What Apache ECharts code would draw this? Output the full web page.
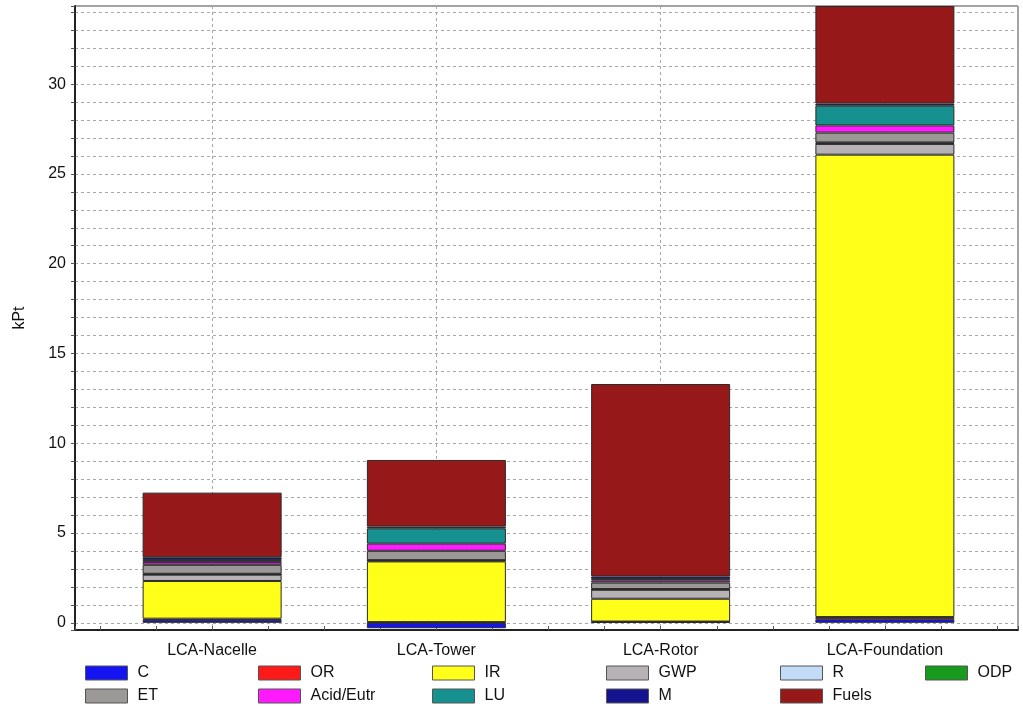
<!DOCTYPE html>
<html>
<head>
<meta charset="utf-8">
<title>LCA stacked impact</title>
<script src="https://cdn.jsdelivr.net/npm/echarts@6/dist/echarts.min.js"></script>
<style>
  html, body { margin: 0; padding: 0; background: #fff; }
  #chart { width: 1023px; height: 708px; }
</style>
</head>
<body>
<div id="chart"></div>
<script>
// Life-cycle components on the x axis
const categories = ['LCA-Nacelle', 'LCA-Tower', 'LCA-Rotor', 'LCA-Foundation'];

// Impact categories (kPt), stacked bottom to top in this order
const C         = [0.15, -0.30, 0.04, 0.20];
const OR        = [0.08, 0.04, 0.03, 0.12];
const IR        = [2.10, 3.38, 1.27, 25.75];
const GWP       = [0.35, 0.05, 0.50, 0.60];
const R         = [0.02, 0.01, 0.02, 0.03];
const ODP       = [0.03, 0.01, 0.02, 0.05];
const ET        = [0.50, 0.52, 0.36, 0.55];
const AcidEutr  = [0.15, 0.40, 0.12, 0.40];
const LU        = [0.12, 0.85, 0.07, 1.10];
const M         = [0.15, 0.10, 0.15, 0.12];
const Fuels     = [3.60, 3.71, 10.72, 5.43];

const seriesDefs = [
  ['C', C, '#1414f0'],
  ['OR', OR, '#ff1a1a'],
  ['IR', IR, '#ffff1a'],
  ['GWP', GWP, '#b6b2b6'],
  ['R', R, '#c2dcf8'],
  ['ODP', ODP, '#189a1c'],
  ['ET', ET, '#9b9896'],
  ['Acid/Eutr', AcidEutr, '#ff1aff'],
  ['LU', LU, '#179190'],
  ['M', M, '#141490'],
  ['Fuels', Fuels, '#961818']
];

// Legend rows
const legendRows = [
  ['C', 'OR', 'IR', 'GWP', 'R', 'ODP'],
  ['ET', 'Acid/Eutr', 'LU', 'M', 'Fuels']
];
const legendColLeft = [85, 258, 432, 606, 780, 925];
const legendRowTop = [665, 688];

const yMin = -0.4;
const yMax = 34.35;
// Outer frame x range in category units (category i sits at i)
const xMin = -0.611;
const xMax = 3.593;

const font = '"Liberation Sans", Arial, sans-serif';

const chart = echarts.init(document.getElementById('chart'), null, { renderer: 'canvas' });

const gridLine = { show: true, lineStyle: { color: '#a8a8a8', type: [3, 3], width: 1 } };

// one legend box per entry so entries sit on a fixed column grid
const legends = [];
legendRows.forEach(function (row, r) {
  row.forEach(function (name, j) {
    legends.push({
      orient: 'horizontal',
      icon: 'rect',
      itemWidth: 42,
      itemHeight: 14,
      left: legendColLeft[j],
      top: legendRowTop[r],
      padding: 0,
      selectedMode: false,
      data: [name],
      itemStyle: { borderColor: '#555', borderWidth: 1 },
      textStyle: { fontFamily: font, fontSize: 16, color: '#111', padding: [0, 0, 0, 5] }
    });
  });
});

const option = {
  backgroundColor: '#fff',
  animation: false,
  grid: [
    // frame, axes and gridlines
    { left: 75, right: 5, top: 6, bottom: 78, show: true, borderColor: '#444', borderWidth: 1, backgroundColor: 'transparent' },
    // band area holding the bars
    { left: 100, right: 26, top: 6, bottom: 78 }
  ],
  legend: legends,
  xAxis: [
    {
      gridIndex: 0, type: 'value', min: xMin, max: xMax,
      minInterval: 0.25, maxInterval: 0.25,
      position: 'bottom',
      axisLine: { show: true, onZero: false, lineStyle: { color: '#222', width: 2 } },
      axisTick: { show: true, inside: true, length: 4, lineStyle: { color: '#555' } },
      axisLabel: {
        fontFamily: font, fontSize: 16, color: '#111', margin: 13,
        formatter: function (v) {
          const r = Math.round(v);
          if (Math.abs(v - r) < 1e-6 && r >= 0 && r < categories.length) return categories[r];
          return '';
        }
      },
      splitLine: { show: false }
    },
    {
      gridIndex: 0, type: 'value', min: xMin, max: xMax,
      minInterval: 1, maxInterval: 1,
      position: 'bottom',
      axisLine: { show: false },
      axisTick: { show: false },
      axisLabel: { show: false },
      splitLine: gridLine
    },
    {
      gridIndex: 1, type: 'category', data: categories, boundaryGap: true,
      show: false
    }
  ],
  yAxis: [
    {
      gridIndex: 0, type: 'value', min: yMin, max: yMax,
      minInterval: 1, maxInterval: 1,
      name: 'kPt', nameLocation: 'middle', nameGap: 47, nameRotate: 90,
      nameTextStyle: { fontFamily: font, fontSize: 16, color: '#111' },
      axisLine: { show: true, onZero: false, lineStyle: { color: '#222', width: 2 } },
      axisTick: { show: true, inside: false, length: 4, lineStyle: { color: '#555' } },
      axisLabel: {
        fontFamily: font, fontSize: 16, color: '#111', margin: 9,
        formatter: function (v) {
          const r = Math.round(v);
          if (Math.abs(v - r) < 1e-6 && r % 5 === 0) return String(r);
          return '';
        }
      },
      splitLine: gridLine
    },
    {
      gridIndex: 1, type: 'value', min: yMin, max: yMax,
      show: false, splitLine: { show: false }
    }
  ],
  series: seriesDefs.map(function (d) {
    return {
      name: d[0],
      type: 'bar',
      stack: 'total',
      xAxisIndex: 2,
      yAxisIndex: 1,
      barWidth: 139,
      itemStyle: { color: d[2], borderColor: '#2a2a2a', borderWidth: 1 },
      emphasis: { disabled: true },
      data: d[1]
    };
  })
};

chart.setOption(option);
</script>
</body>
</html>
